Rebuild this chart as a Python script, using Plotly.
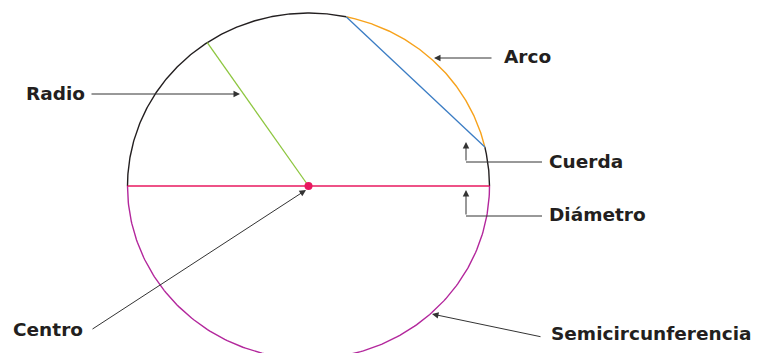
import numpy as np
import plotly.graph_objects as go

# ellipse (circle as drawn) in picture units
center = [308.5, 186.0]
radii = [181.0, 173.0]

# arcs of the circumference: start / end angle (deg) and colour
arc_start = [78, 0, 13, 180]
arc_end = [180, 13, 78, 360]
arc_colors = ['#231f20', '#231f20', '#f7a21b', '#b3279c']

# angles of the elements inside the circle
chord_angles = [78, 13]
radius_angle = 124
diameter_angles = [180, 0]

# labels
labels = ['Radio', 'Arco', 'Cuerda', 'Diámetro', 'Centro', 'Semicircunferencia']


def pt(a):
    t = np.radians(a)
    return center[0] + radii[0] * np.cos(t), center[1] - radii[1] * np.sin(t)


fig = go.Figure()

for a0, a1, c in zip(arc_start, arc_end, arc_colors):
    t = np.linspace(a0, a1, 200)
    xs, ys = pt(t)
    fig.add_trace(go.Scatter(x=xs, y=ys, mode='lines', line=dict(color=c, width=1.4),
                             hoverinfo='skip'))

# chord
p0, p1 = pt(chord_angles[0]), pt(chord_angles[1])
fig.add_trace(go.Scatter(x=[p0[0], p1[0]], y=[p0[1], p1[1]], mode='lines',
                         line=dict(color='#3a7cc4', width=1.3), hoverinfo='skip'))

# radius
p = pt(radius_angle)
fig.add_trace(go.Scatter(x=[center[0], p[0]], y=[center[1], p[1]], mode='lines',
                         line=dict(color='#8dc63f', width=1.3), hoverinfo='skip'))

# diameter
d0, d1 = pt(diameter_angles[0]), pt(diameter_angles[1])
fig.add_trace(go.Scatter(x=[d0[0], d1[0]], y=[d0[1], d1[1]], mode='lines',
                         line=dict(color='#e8185f', width=1.3), hoverinfo='skip'))

# centre dot
fig.add_trace(go.Scatter(x=[center[0]], y=[center[1]], mode='markers',
                         marker=dict(color='#e8185f', size=8), hoverinfo='skip'))

# label text
label_pos = [(24, 93), (502, 56), (547, 161), (547, 214), (11, 329), (549, 333)]
for txt, (x, y) in zip(labels, label_pos):
    fig.add_annotation(x=x, y=y, text='<b>' + txt + '</b>', showarrow=False,
                       xanchor='left', yanchor='middle',
                       font=dict(family='DejaVu Sans', size=18.5, color='#231f20'))

# leader arrows: (tip x, tip y, tail x, tail y)
arrows = [(240, 94, 90, 94), (434, 58, 493, 58), (466, 142, 466, 162),
          (466, 190, 466, 216), (306, 190, 91, 330), (432, 314, 542, 337)]
for tx, ty, sx, sy in arrows:
    fig.add_annotation(x=tx, y=ty, ax=sx, ay=sy, xref='x', yref='y', axref='x', ayref='y',
                       text='', showarrow=True, arrowhead=2, arrowsize=1.3,
                       arrowwidth=1, arrowcolor='#333333')

# elbows for Cuerda / Diámetro
for y in [162, 216]:
    fig.add_shape(type='line', x0=466, x1=542, y0=y, y1=y,
                  line=dict(color='#333333', width=1))

fig.update_xaxes(range=[0, 761], visible=False)
fig.update_yaxes(range=[353, 0], visible=False)
fig.update_layout(width=761, height=353, margin=dict(l=0, r=0, t=0, b=0),
                  showlegend=False, plot_bgcolor='white', paper_bgcolor='white',
                  hovermode=False)

fig.write_html('out.html', config={'displayModeBar': False},
               post_script="document.body.style.margin='0';")
